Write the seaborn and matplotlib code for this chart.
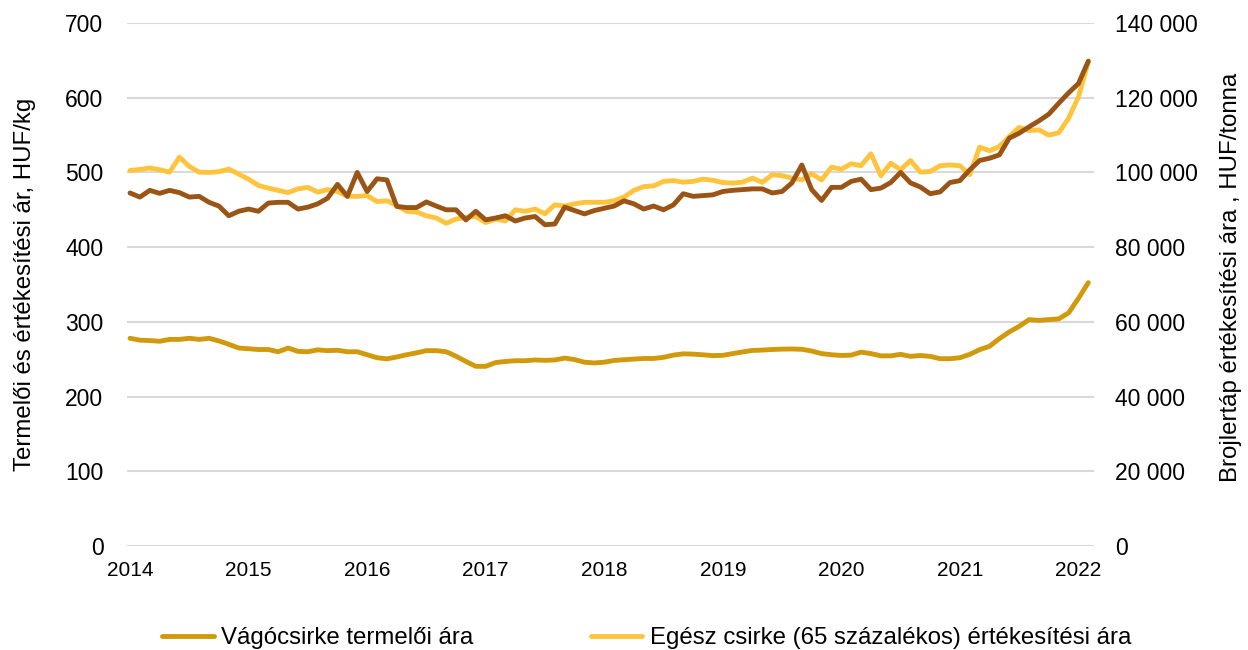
import seaborn as sns
import pandas as pd
import matplotlib
matplotlib.use("Agg")
import matplotlib.pyplot as plt
from matplotlib.ticker import FuncFormatter

# monthly data, Jan 2014 - Feb 2022
years = ["2014", "2015", "2016", "2017", "2018", "2019", "2020", "2021", "2022"]

vagocsirke = [278, 275.5, 275, 274, 276.5, 276.5, 278, 276.5, 278, 274.5,
              270, 265, 264, 263, 263, 260, 265, 260.5, 260, 262.5,
              261.5, 262, 260, 260, 256, 252, 250.5, 253, 256, 258.5,
              261.5, 261.5, 260, 254, 247, 240.5, 240.5, 245.5, 247, 248,
              248, 249, 248.5, 249, 251.5, 249.5, 246, 245, 246, 248.4,
              249.3, 250.2, 251, 251, 252.5, 255.5, 257.2, 256.8, 255.9, 254.8,
              255.2, 257.5, 259.7, 261.8, 262.2, 263, 263.5, 263.7, 263.3, 261,
              257.5, 256, 255, 255.5, 259.5, 257.5, 254.5, 254.5, 256.5, 253.8,
              255, 253.8, 250.7, 250.7, 252, 256.5, 262.8, 267.3, 277.6, 286.5,
              294, 303, 302, 303, 304, 312, 331.4, 352.5]

egesz_csirke = [502.7, 504, 506, 503.6, 500.4, 520.5, 508, 500.4, 500, 501,
                504.5, 497.8, 491, 482.6, 479, 476, 473, 478, 480, 473.7,
                477, 474.6, 468, 468, 469, 461, 462, 456, 448, 447,
                442, 439, 432, 437.5, 440, 441, 433, 437.5, 435, 450,
                448, 451, 444.6, 456.7, 455, 458, 460, 460, 460, 462,
                467, 476, 481, 482, 488, 489, 487, 488, 491, 489.5,
                486.5, 485.7, 487, 492.4, 486.7, 497, 495.6, 492.4, 490, 498,
                490, 507, 504.4, 511.6, 509, 525, 495.6, 512.4, 503.6, 516,
                500.4, 501.3, 509, 510, 509, 497, 534, 529, 534.7, 548,
                560.4, 556, 557, 550, 553, 572.4, 601, 648]

brojlertap = [94500, 93400, 95200, 94400, 95200, 94600, 93400, 93600, 92000, 91000,
              88400, 89600, 90200, 89600, 91800, 92000, 92000, 90200, 90700, 91600,
              93100, 96800, 93600, 100000, 94900, 98300, 98000, 90900, 90600, 90600,
              92100, 91000, 90000, 90000, 87300, 89600, 87300, 87800, 88400, 87000,
              87800, 88200, 86000, 86200, 90700, 89800, 88900, 89800, 90400, 91000,
              92400, 91600, 90200, 91000, 90000, 91300, 94300, 93600, 93800, 94000,
              94900, 95200, 95400, 95600, 95600, 94500, 94900, 97200, 102000, 95400,
              92500, 96000, 96000, 97600, 98200, 95400, 95800, 97300, 100000, 97200,
              96100, 94300, 94800, 97300, 97800, 100700, 103200, 103800, 104700, 109200,
              110500, 112200, 113800, 115600, 118500, 121300, 123800, 129800]

df = pd.DataFrame({
    "honap": range(len(vagocsirke)),
    "vago": vagocsirke,
    "egesz": egesz_csirke,
    "tap": brojlertap,
})

sns.set_style("white")
plt.rcParams["font.family"] = ["Liberation Sans", "DejaVu Sans"]
for k in ("text.color", "axes.labelcolor", "xtick.color", "ytick.color"):
    plt.rcParams[k] = "black"

fig = plt.figure(figsize=(12.48, 6.5), dpi=100)
ax = fig.add_axes([0.1018, 0.16, 0.775, 0.8046])
ax2 = ax.twinx()

sns.lineplot(data=df, x="honap", y="vago", ax=ax, color="#D09A0C", lw=3.5,
             label="Vágócsirke termelői ára")
sns.lineplot(data=df, x="honap", y="egesz", ax=ax, color="#FFC43D", lw=3.5,
             label="Egész csirke (65 százalékos) értékesítési ára")
sns.lineplot(data=df, x="honap", y="tap", ax=ax2, color="#9A5516", lw=3.5,
             legend=False)

ax.set_ylim(0, 700)
ax.set_yticks(range(0, 701, 100))
ax2.set_ylim(0, 140000)
ax2.set_yticks(range(0, 140001, 20000))
ax2.yaxis.set_major_formatter(FuncFormatter(lambda v, p: f"{int(v):,}".replace(",", " ")))
ax.set_xlim(-0.3, 97.6)
ax.set_xticks(range(0, 97, 12))
ax.set_xticklabels(years)

ax.grid(axis="y", color="#D9D9D9", lw=1.5)
ax.set_axisbelow(True)
for a in (ax, ax2):
    for s in a.spines.values():
        s.set_visible(False)

ax.tick_params(axis="y", length=0, pad=17, labelsize=16.5)
ax.tick_params(axis="x", length=0, pad=11, labelsize=15)
ax2.tick_params(axis="y", length=0, pad=15, labelsize=16.5)

ax.set_xlabel("")
ax.set_ylabel("Termelői és értékesítési ár, HUF/kg", fontsize=17.3)
ax2.set_ylabel("Brojlertáp értékesítési ára , HUF/tonna", fontsize=17.3)
ax.yaxis.set_label_coords(-0.094, 0.5)
ax2.yaxis.set_label_coords(1.13, 0.514)

handles, labels = ax.get_legend_handles_labels()
ax.get_legend().remove()
fig.legend(handles, labels, loc="center", bbox_to_anchor=(0.518, 0.018),
           ncol=2, frameon=False, fontsize=17.3, handlelength=2.15,
           handletextpad=0.3, columnspacing=4.9)

fig.savefig("out.png", dpi=100)
